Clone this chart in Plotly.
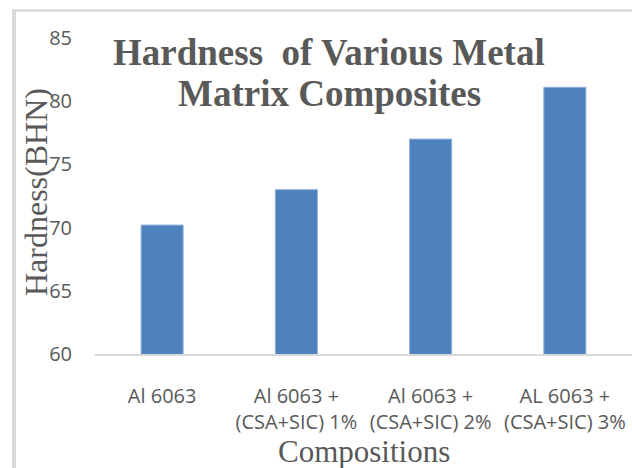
import plotly.graph_objects as go

# Hardness (BHN) of Al 6063 and its CSA+SiC reinforced composites
categories = [
    "Al 6063",
    "Al 6063 +<br>(CSA+SIC) 1%",
    "Al 6063 +<br>(CSA+SIC) 2%",
    "AL 6063 +<br>(CSA+SIC) 3%",
]
hardness = [70.2, 73.0, 77.0, 81.1]
y_ticks = [60, 65, 70, 75, 80, 85]

W, H = 632, 468
L, R, T, B = 95, 0, 38, 114
PW, PH = W - L - R, H - T - B

GREY = "#595959"
LIGHT = "#d9d9d9"
SERIF = "Liberation Serif, Times New Roman, serif"
SANS = "Open Sans, Noto Sans, sans-serif"


def px_x(px):
    return (px - L) / PW


def px_y(py):
    return (H - B - py) / PH


fig = go.Figure(
    go.Bar(
        x=categories,
        y=hardness,
        marker=dict(color="#4f81bd", line=dict(color="#8fb0dc", width=1)),
        hoverinfo="x+y",
    )
)

fig.update_layout(
    width=W,
    height=H,
    margin=dict(l=L, r=R, t=T, b=B, autoexpand=False),
    paper_bgcolor="white",
    plot_bgcolor="white",
    showlegend=False,
    bargap=0.687,
    font=dict(family=SANS, size=20, color=GREY),
)

fig.update_xaxes(
    showgrid=False,
    showline=True,
    linecolor=LIGHT,
    linewidth=2,
    ticks="",
    ticklabelstandoff=23,
    tickfont=dict(family=SANS, size=20, color=GREY),
    tickangle=0,
)
fig.update_yaxes(
    range=[60, 85],
    tickvals=y_ticks,
    showgrid=False,
    showline=False,
    zeroline=False,
    ticks="",
    ticklabelstandoff=22,
    tickfont=dict(family=SANS, size=20, color=GREY),
)

annotations = [
    dict(text="<b>Hardness  of Various Metal</b>", x=px_x(329), y=px_y(52)),
    dict(text="<b>Matrix Composites</b>", x=px_x(329), y=px_y(93.5)),
]
for a in annotations:
    a.update(xref="paper", yref="paper", xanchor="center", yanchor="middle",
             showarrow=False, font=dict(family=SERIF, size=37, color=GREY))

annotations.append(dict(
    text="Compositions", x=px_x(364), y=px_y(452),
    xref="paper", yref="paper", xanchor="center", yanchor="middle",
    showarrow=False, font=dict(family=SERIF, size=31, color=GREY),
))
annotations.append(dict(
    text="Hardness(BHN)", x=px_x(36), y=px_y(192), textangle=-90,
    xref="paper", yref="paper", xanchor="center", yanchor="middle",
    showarrow=False, font=dict(family=SERIF, size=32, color=GREY),
))
fig.update_layout(annotations=annotations)

# chart-area frame: light grey edges along the top and left
fig.add_shape(type="line", xref="paper", yref="paper",
              x0=px_x(12), x1=px_x(W), y0=px_y(10.5), y1=px_y(10.5),
              line=dict(color=LIGHT, width=2.5), layer="below")
fig.add_shape(type="line", xref="paper", yref="paper",
              x0=px_x(14), x1=px_x(14), y0=px_y(9.5), y1=px_y(H),
              line=dict(color=LIGHT, width=4), layer="below")

fig.write_html("out.html")
